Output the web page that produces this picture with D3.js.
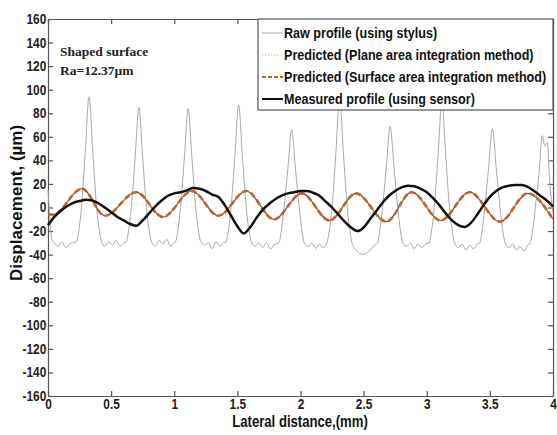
<!DOCTYPE html>
<html>
<head>
<meta charset="utf-8">
<title>Displacement profile</title>
<style>
  body { margin: 0; background: #fff; }
  .tick text { font-family: "Liberation Sans", Arial, sans-serif; font-weight: bold; font-size: 14px; fill: #222; }
  .tick line, .domain { stroke: #555; stroke-width: 1.2; }
</style>
</head>
<body>
<div id="chart"></div>
<script src="https://cdnjs.cloudflare.com/ajax/libs/d3/7.8.5/d3.min.js"></script>
<script>
// tick values
var xTicks = [0, 0.5, 1, 1.5, 2, 2.5, 3, 3.5, 4];
var yTicks = [-160, -140, -120, -100, -80, -60, -40, -20, 0, 20, 40, 60, 80, 100, 120, 140, 160];

// raw stylus profile (mm, um)
var rawX = [0, 0.015, 0.03, 0.05, 0.08, 0.11, 0.14, 0.17, 0.2,
  0.225, 0.24, 0.265, 0.295, 0.325, 0.355, 0.385, 0.41, 0.425,
  0.45, 0.48, 0.51, 0.54, 0.57, 0.60,
  0.62, 0.635, 0.66, 0.69, 0.72, 0.75, 0.78, 0.805, 0.82,
  0.85, 0.88, 0.91, 0.94, 0.97, 0.995,
  1.01, 1.025, 1.05, 1.08, 1.11, 1.14, 1.17, 1.195, 1.21,
  1.24, 1.27, 1.30, 1.33, 1.36, 1.39,
  1.41, 1.425, 1.45, 1.48, 1.51, 1.54, 1.57, 1.595, 1.61,
  1.64, 1.67, 1.70, 1.73, 1.76, 1.80,
  1.83, 1.845, 1.87, 1.90, 1.93, 1.96, 1.99, 2.015, 2.03,
  2.06, 2.09, 2.12, 2.15, 2.18,
  2.21, 2.225, 2.25, 2.28, 2.31, 2.34, 2.37, 2.395, 2.41,
  2.44, 2.47, 2.50, 2.53, 2.56, 2.59,
  2.61, 2.625, 2.65, 2.68, 2.71, 2.74, 2.77, 2.795, 2.81,
  2.84, 2.87, 2.90, 2.93, 2.96, 2.99,
  3.02, 3.035, 3.06, 3.09, 3.12, 3.15, 3.18, 3.205, 3.22,
  3.25, 3.28, 3.31, 3.34, 3.37, 3.40,
  3.42, 3.435, 3.46, 3.49, 3.52, 3.55, 3.58, 3.605, 3.62,
  3.65, 3.68, 3.71, 3.74, 3.77, 3.80,
  3.82, 3.835, 3.86, 3.89, 3.915, 3.935, 3.955, 3.975, 4.0];
var rawY = [15, -10, -27, -30, -33, -29, -34, -31, -30,
  -29, -22, 0, 47, 94, 47, 0, -22, -29,
  -33, -29, -32, -28, -33, -30,
  -29, -22, 0, 42, 85, 42, 0, -22, -29,
  -33, -28, -31, -27, -33, -30,
  -29, -22, 0, 42, 84, 42, 0, -22, -29,
  -32, -30, -35, -29, -33, -30,
  -29, -22, 0, 43, 87, 43, 0, -22, -29,
  -33, -30, -34, -30, -35, -31,
  -30, -22, 0, 33, 66, 33, 0, -22, -30,
  -33, -30, -35, -31, -34,
  -30, -22, 0, 46, 92, 46, 0, -22, -31,
  -36, -39, -40, -38, -35, -32,
  -30, -22, 0, 35, 69, 35, 0, -22, -30,
  -33, -30, -35, -31, -34, -31,
  -30, -22, 0, 45, 90, 45, 0, -22, -30,
  -34, -31, -36, -32, -35, -31,
  -30, -22, 0, 34, 67, 34, 0, -22, -30,
  -34, -31, -36, -33, -37, -32,
  -30, -22, 0, 30, 61, 52, 55, 20, -5];

// predicted profiles (extrema)
var predX = [0, 0.04, 0.27, 0.45, 0.70, 0.91, 1.14, 1.35, 1.57, 1.79, 2.01, 2.23, 2.44, 2.68, 2.88, 3.11, 3.34, 3.58, 3.80, 4.0];
var planeY = [-6, -6, 16, -7, 13, -8, 14, -7, 14, -10, 12, -11, 12, -12, 13, -11, 13, -12, 12, -10];
var surfaceY = [-6, -6, 16, -7, 13, -8, 14, -7, 14, -10, 12, -11, 12, -12, 13, -11, 13, -12, 12, -10];

// measured profile (sensor)
var measX = [0, 0.05, 0.1, 0.15, 0.2, 0.25, 0.3, 0.35, 0.4, 0.45, 0.5, 0.55, 0.6, 0.65, 0.7,
  0.75, 0.8, 0.85, 0.9, 0.95, 1.0, 1.05, 1.1, 1.15, 1.2, 1.25, 1.3, 1.35, 1.4, 1.45, 1.5,
  1.55, 1.6, 1.65, 1.7, 1.75, 1.8, 1.85, 1.9, 1.95, 2.0, 2.05, 2.1, 2.15, 2.2, 2.25, 2.3,
  2.35, 2.4, 2.45, 2.5, 2.55, 2.6, 2.65, 2.7, 2.75, 2.8, 2.85, 2.9, 2.95, 3.0, 3.05, 3.1,
  3.15, 3.2, 3.25, 3.3, 3.35, 3.4, 3.45, 3.5, 3.55, 3.6, 3.65, 3.7, 3.75, 3.8, 3.85, 3.9, 3.95, 4.0];
var measY = [-15, -8, -3, 1, 4, 5.5, 6.5, 6, 3.5, 0, -4, -8, -11, -14, -15.5,
  -11, -5, 1, 6, 10, 12, 13, 14.5, 16.5, 16, 14, 11, 9, 2, -7, -16,
  -22, -17, -9, -2, 3, 7, 10, 12, 13, 14, 14, 12.5, 10, 5, 0, -6,
  -12, -17, -20, -17, -10, -3, 4, 10, 14, 17, 18.5, 18, 16, 13, 8, 2,
  -5, -11, -15, -16.5, -13, -6, 2, 9, 14, 17, 18.5, 19, 19, 17.5, 14, 10, 6, 1];

var legendLabels = ["Raw profile (using stylus)", "Predicted (Plane area integration method)",
  "Predicted (Surface area integration method)", "Measured profile (using sensor)"];

var W = 557, H = 435;
var mLeft = 48, mRight = 553, mTop = 19, mBottom = 396;

var svg = d3.select("#chart").append("svg").attr("width", W).attr("height", H);

var x = d3.scaleLinear().domain([0, 4]).range([mLeft, mRight]);
var y = d3.scaleLinear().domain([-160, 160]).range([mBottom, mTop]);

function zip(xs, ys) { return xs.map(function(d, i) { return [d, ys[i]]; }); }
var line = d3.line().x(function(d) { return x(d[0]); }).y(function(d) { return y(d[1]); }).curve(d3.curveMonotoneX);

// axes, ticks inside
var gx = svg.append("g").attr("transform", "translate(0," + mBottom + ")")
  .call(d3.axisBottom(x).tickValues(xTicks).tickSize(-5).tickSizeOuter(0).tickPadding(3).tickFormat(function(d) { return String(d); }));
gx.selectAll(".tick text").attr("transform", "scale(0.85,1)");
var gy = svg.append("g").attr("transform", "translate(" + mLeft + ",0)")
  .call(d3.axisLeft(y).tickValues(yTicks).tickSize(-5).tickSizeOuter(0).tickPadding(2).tickFormat(function(d) { return String(d); }));
gy.selectAll(".tick text").attr("transform", "scale(0.85,1)");
svg.append("g").attr("transform", "translate(0," + mTop + ")")
  .call(d3.axisTop(x).tickValues(xTicks).tickSize(-5).tickSizeOuter(0).tickFormat(""));
svg.append("g").attr("transform", "translate(" + mRight + ",0)")
  .call(d3.axisRight(y).tickValues(yTicks).tickSize(-5).tickSizeOuter(0).tickFormat(""));

// series
svg.append("path").datum(zip(rawX, rawY)).attr("d", line)
  .attr("fill", "none").attr("stroke", "#a8a8a8").attr("stroke-width", 1);
svg.append("path").datum(zip(predX, planeY)).attr("d", line)
  .attr("fill", "none").attr("stroke", "#7a5a4a").attr("stroke-width", 1.2);
svg.append("path").datum(zip(predX, surfaceY)).attr("d", line)
  .attr("fill", "none").attr("stroke", "#c4602a").attr("stroke-width", 2.6).attr("stroke-dasharray", "6,3");
svg.append("path").datum(zip(measX, measY)).attr("d", line)
  .attr("fill", "none").attr("stroke", "#111").attr("stroke-width", 2.5);

// annotation
var note = svg.append("g").attr("font-family", "'Liberation Serif', 'Times New Roman', serif")
  .attr("font-weight", "bold").attr("font-size", 13.5).attr("fill", "#222");
note.append("text").attr("x", 60).attr("y", 56).text("Shaped surface");
note.append("text").attr("x", 60).attr("y", 75).text("Ra=12.37\u00b5m");

// legend
var lg = svg.append("g").attr("transform", "translate(258," + mTop + ")");
lg.append("rect").attr("width", mRight - 258).attr("height", 91)
  .attr("fill", "#fff").attr("stroke", "#555").attr("stroke-width", 1.2);
var styles = [
  { stroke: "#a8a8a8", w: 1, dash: null },
  { stroke: "#bbb", w: 1.2, dash: "1.5,1.5" },
  { stroke: "#c4602a", w: 2, dash: "4,2" },
  { stroke: "#111", w: 2, dash: null }
];
legendLabels.forEach(function(t, i) {
  var cy = 14 + i * 22;
  lg.append("line").attr("x1", 4).attr("x2", 25).attr("y1", cy).attr("y2", cy)
    .attr("stroke", styles[i].stroke).attr("stroke-width", styles[i].w)
    .attr("stroke-dasharray", styles[i].dash);
  lg.append("text").attr("transform", "translate(26," + (cy + 5) + ") scale(0.9,1)")
    .attr("font-family", "'Liberation Sans', Arial, sans-serif")
    .attr("font-weight", "bold").attr("font-size", 14).attr("fill", "#111").text(t);
});

// axis titles
svg.append("text").attr("transform", "translate(300,427) scale(0.82,1)").attr("text-anchor", "middle")
  .attr("font-family", "'Liberation Sans', Arial, sans-serif")
  .attr("font-weight", "bold").attr("font-size", 16).attr("fill", "#111")
  .text("Lateral distance,(mm)");
svg.append("text").attr("transform", "translate(22,203) rotate(-90)").attr("text-anchor", "middle")
  .attr("font-family", "'Liberation Sans', Arial, sans-serif")
  .attr("font-weight", "bold").attr("font-size", 17).attr("fill", "#111")
  .text("Displacement, (\u00b5m)");
</script>
</body>
</html>
